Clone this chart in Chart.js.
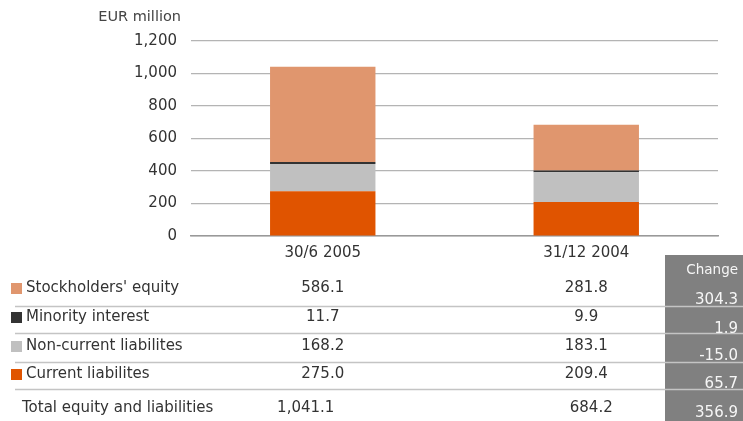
<!DOCTYPE html>
<html>
<head>
<meta charset="utf-8">
<script src="https://cdn.jsdelivr.net/npm/chart.js@4/dist/chart.umd.min.js"></script>
<style>
  body { margin: 0; background: #fff; }
  #wrap { position: relative; width: 743px; height: 421px; }
</style>
</head>
<body>
<div id="wrap"><canvas id="bsChart" width="743" height="421"></canvas></div>
<script>
// balance sheet figures, EUR million
var periods = ['30/6 2005', '31/12 2004'];
var equity = [586.1, 281.8];
var minority = [11.7, 9.9];
var nonCurrent = [168.2, 183.1];
var current = [275.0, 209.4];
var totals = [1041.1, 684.2];
var change = [304.3, 1.9, -15.0, 65.7, 356.9];
var yTicks = [0, 200, 400, 600, 800, 1000, 1200];

var rowNames = ["Stockholders' equity", 'Minority interest', 'Non-current liabilites', 'Current liabilites'];
var rowColors = ['#E0966E', '#333333', '#C0C0C0', '#E05400'];
var rowData = [equity, minority, nonCurrent, current];

var FONT = '"DejaVu Sans", Verdana, sans-serif';

function fmt(v) {
    return v.toLocaleString('en-US', { minimumFractionDigits: 1, maximumFractionDigits: 1 });
}

// table under the chart + unit label
var tablePlugin = {
    id: 'bsTable',
    afterDraw: function (chart) {
        var ctx = chart.ctx;
        var xs = chart.scales.x;
        ctx.save();

        ctx.fillStyle = '#444';
        ctx.font = '14.5px ' + FONT;
        ctx.textAlign = 'right';
        ctx.textBaseline = 'middle';
        ctx.fillText('EUR million', 181, 17);

        // change column
        ctx.fillStyle = '#808080';
        ctx.fillRect(665, 255, 78, 166);

        var rowY = [288, 317, 346, 374];
        var lineY = [306.5, 333.5, 362.5, 389.5];
        ctx.strokeStyle = '#c4c4c4';
        ctx.lineWidth = 1.5;
        lineY.forEach(function (y) {
            ctx.beginPath();
            ctx.moveTo(15, y);
            ctx.lineTo(743, y);
            ctx.stroke();
        });

        ctx.font = '15px ' + FONT;
        rowNames.forEach(function (name, i) {
            var y = rowY[i];
            ctx.fillStyle = rowColors[i];
            ctx.fillRect(11, y - 5, 11, 11);
            ctx.fillStyle = '#333';
            ctx.textAlign = 'left';
            ctx.fillText(name, 26, y);
            ctx.textAlign = 'center';
            periods.forEach(function (p, j) {
                ctx.fillText(fmt(rowData[i][j]), xs.getPixelForValue(j), y);
            });
        });

        ctx.textAlign = 'left';
        ctx.fillText('Total equity and liabilities', 22, 408);
        ctx.textAlign = 'center';
        ctx.fillText(fmt(totals[0]), xs.getPixelForValue(0) - 17, 408);
        ctx.fillText(fmt(totals[1]), xs.getPixelForValue(1) + 5, 408);

        ctx.fillStyle = '#f6f6f6';
        ctx.textAlign = 'right';
        ctx.font = '13.5px ' + FONT;
        ctx.fillText('Change', 738, 270);
        ctx.font = '15px ' + FONT;
        var changeY = [300, 329, 356, 384, 413];
        change.forEach(function (v, i) {
            ctx.fillText(fmt(v), 738, changeY[i]);
        });

        ctx.restore();
    }
};

var ctx = document.getElementById('bsChart');
var bsChart = new Chart(ctx, {
    type: 'bar',
    data: {
        labels: periods,
        datasets: [
            { label: 'Current liabilites', data: current, backgroundColor: rowColors[3] },
            { label: 'Non-current liabilites', data: nonCurrent, backgroundColor: rowColors[2] },
            { label: 'Minority interest', data: minority, backgroundColor: rowColors[1] },
            { label: "Stockholders' equity", data: equity, backgroundColor: rowColors[0] }
        ]
    },
    options: {
        responsive: false,
        animation: false,
        layout: { padding: { top: 41, right: 25, left: 0, bottom: 0 } },
        datasets: { bar: { barPercentage: 0.4, categoryPercentage: 1.0 } },
        plugins: { legend: { display: false }, tooltip: { enabled: false } },
        scales: {
            x: {
                stacked: true,
                grid: { display: false, drawTicks: false },
                border: { color: '#999', width: 1.5 },
                ticks: { color: '#333', font: { family: FONT, size: 15 }, padding: 8 },
                afterFit: function (scale) { scale.height = 185; }
            },
            y: {
                stacked: true,
                min: 0,
                max: 1200,
                afterBuildTicks: function (scale) {
                    scale.ticks = yTicks.map(function (v) { return { value: v }; });
                },
                grid: { color: '#b4b4b4', lineWidth: 1.2, drawTicks: false },
                border: { display: false },
                ticks: {
                    color: '#333',
                    padding: 14,
                    font: { family: FONT, size: 15 },
                    callback: function (v) { return v.toLocaleString('en-US'); }
                },
                afterFit: function (scale) { scale.width = 191; }
            }
        }
    },
    plugins: [tablePlugin]
});
</script>
</body>
</html>
